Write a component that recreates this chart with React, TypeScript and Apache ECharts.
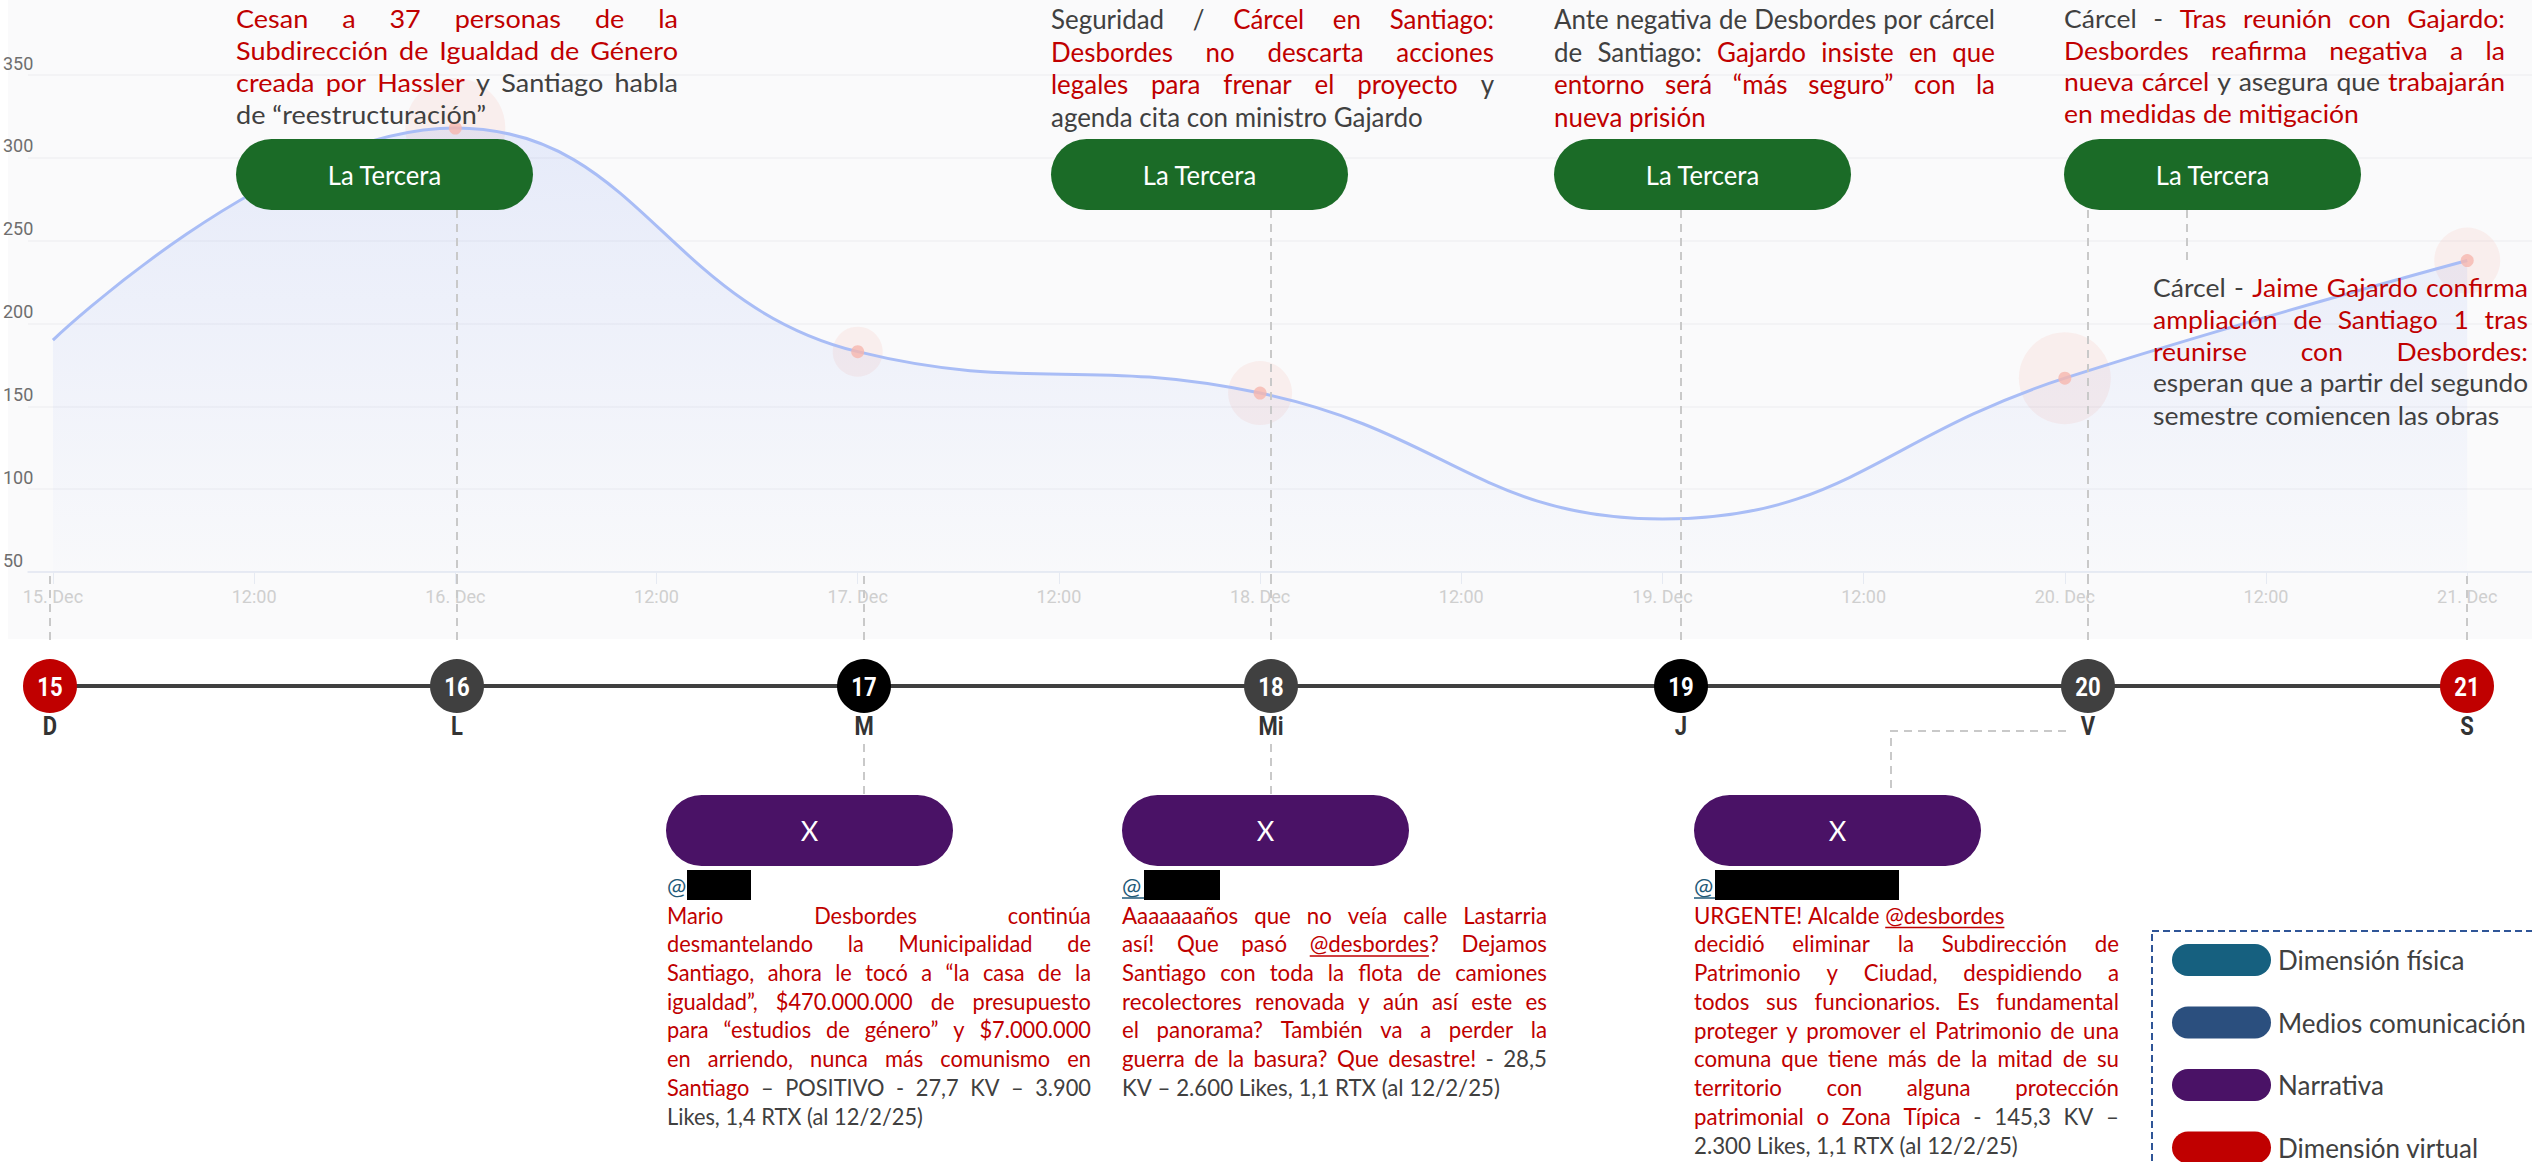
import React, { useEffect, useRef } from "react";
import * as echarts from "echarts";

// ---------- DATA ----------
const dayIndex = [0, 1, 2, 3, 4, 5, 6];
const dayValues = [190, 318, 183, 158, 82, 167, 238];
const markedDays = [1, 2, 3, 5, 6];
const xTickLabels = [
  "15. Dec", "12:00", "16. Dec", "12:00", "17. Dec", "12:00", "18. Dec",
  "12:00", "19. Dec", "12:00", "20. Dec", "12:00", "21. Dec",
];
const timelineDays = ["15", "16", "17", "18", "19", "20", "21"];
const weekdayLetters = ["D", "L", "M", "Mi", "J", "V", "S"];
const dayKinds = ["weekend", "odd", "even", "odd", "even", "odd", "weekend"];
const legendLabels = ["Dimensión física", "Medios comunicación", "Narrativa", "Dimensión virtual"];

// ---------- STYLE / LAYOUT ----------
const RED = "#c00000";
const GRAY = "#404040";
const AT = "#1f5a78";
const haloSizes = [100, 50, 64, 92, 66];
const timelineX = [50, 457, 864, 1271, 1681, 2088, 2467];
const dayColor: Record<string, string> = { weekend: "#c00000", odd: "#404040", even: "#000000" };
const legendColors = ["#16607f", "#2b4f7e", "#4a1266", "#c00000"];

type Seg = { t: string; c: string; u?: boolean };
const r = (t: string, u?: boolean): Seg => ({ t, c: RED, u });
const g = (t: string): Seg => ({ t, c: GRAY });

const block1: Seg[][] = [
  [r("Cesan a 37 personas de la")],
  [r("Subdirección de Igualdad de Género")],
  [r("creada por Hassler"), g(" y Santiago habla")],
  [g("de “reestructuración”")],
];
const block2: Seg[][] = [
  [g("Seguridad / "), r("Cárcel en Santiago:")],
  [r("Desbordes no descarta acciones")],
  [r("legales para frenar el proyecto"), g(" y")],
  [g("agenda cita con ministro Gajardo")],
];
const block3: Seg[][] = [
  [g("Ante negativa de Desbordes por cárcel")],
  [g("de Santiago: "), r("Gajardo insiste en que")],
  [r("entorno será “más seguro” con la")],
  [r("nueva prisión")],
];
const block4: Seg[][] = [
  [g("Cárcel - "), r("Tras reunión con Gajardo:")],
  [r("Desbordes reafirma negativa a la")],
  [r("nueva cárcel"), g(" y asegura que "), r("trabajarán")],
  [r("en medidas de mitigación")],
];
const block5: Seg[][] = [
  [g("Cárcel - "), r("Jaime Gajardo confirma")],
  [r("ampliación de Santiago 1 tras")],
  [r("reunirse con Desbordes:")],
  [g("esperan que a partir del segundo")],
  [g("semestre comiencen las obras")],
];
const tweetA: Seg[][] = [
  [r("Mario Desbordes continúa")],
  [r("desmantelando la Municipalidad de")],
  [r("Santiago, ahora le tocó a “la casa de la")],
  [r("igualdad”, $470.000.000 de presupuesto")],
  [r("para “estudios de género” y $7.000.000")],
  [r("en arriendo, nunca más comunismo en")],
  [r("Santiago"), g(" – POSITIVO - 27,7 KV – 3.900")],
  [g("Likes, 1,4 RTX (al 12/2/25)")],
];
const tweetB: Seg[][] = [
  [r("Aaaaaaaños que no veía calle Lastarria")],
  [r("así! Que pasó "), r("@desbordes", true), r("? Dejamos")],
  [r("Santiago con toda la flota de camiones")],
  [r("recolectores renovada y aún así este es")],
  [r("el panorama? También va a perder la")],
  [r("guerra de la basura? Que desastre!"), g(" - 28,5")],
  [g("KV – 2.600 Likes, 1,1 RTX (al 12/2/25)")],
];
const tweetC: Seg[][] = [
  [r("URGENTE! Alcalde "), r("@desbordes", true)],
  [r("decidió eliminar la Subdirección de")],
  [r("Patrimonio y Ciudad, despidiendo a")],
  [r("todos sus funcionarios. Es fundamental")],
  [r("proteger y promover el Patrimonio de una")],
  [r("comuna que tiene más de la mitad de su")],
  [r("territorio con alguna protección")],
  [r("patrimonial o Zona Típica"), g(" - 145,3 KV –")],
  [g("2.300 Likes, 1,1 RTX (al 12/2/25)")],
];

const FAMILY = "Lato";
let measureCtx: CanvasRenderingContext2D | null = null;
function measure(text: string, size: number, family: string) {
  if (!measureCtx) measureCtx = document.createElement("canvas").getContext("2d");
  measureCtx!.font = `${size}px ${family}`;
  return measureCtx!.measureText(text).width;
}

type BlockOpts = {
  x: number; y: number; w: number; lh: number; size: number; sx: number; family?: string;
  noJustify?: number[];
};
function layoutBlock(lines: Seg[][], o: BlockOpts): any[] {
  const fam = o.family || FAMILY;
  const out: any[] = [];
  lines.forEach((segs, li) => {
    const chars: { ch: string; c: string; u?: boolean }[] = [];
    segs.forEach((s) => {
      for (const ch of s.t) chars.push({ ch, c: s.c, u: s.u });
    });
    const words: { text: string; c: string; u?: boolean; w: number }[][] = [];
    let cur: any[] | null = null;
    chars.forEach((k) => {
      if (k.ch === " ") { cur = null; return; }
      if (!cur) { cur = []; words.push(cur); }
      const last = cur[cur.length - 1];
      if (last && last.c === k.c && last.u === k.u) last.text += k.ch;
      else cur.push({ text: k.ch, c: k.c, u: k.u, w: 0 });
    });
    let sx = o.sx;
    let total = 0;
    words.forEach((wd) => wd.forEach((run) => { run.w = measure(run.text, o.size, fam); total += run.w; }));
    const spaceW = measure(" ", o.size, fam);
    const gaps = words.length - 1;
    const natural = (total + gaps * spaceW) * sx;
    if (natural > o.w) sx = sx * (o.w / natural);
    const justify = li < lines.length - 1 && !(o.noJustify || []).includes(li);
    let gap = spaceW * sx;
    if (justify && gaps > 0) gap = (o.w - total * sx) / gaps;
    let cx = o.x;
    const y = o.y + li * o.lh;
    words.forEach((wd) => {
      wd.forEach((run) => {
        const w = run.w * sx;
        out.push({
          type: "text", x: cx, y, scaleX: sx, z: 50,
          style: {
            text: run.text, fill: run.c, fontSize: o.size, fontFamily: fam,
            textAlign: "left", textVerticalAlign: "middle", align: "left", verticalAlign: "middle",
          },
        });
        if (run.u) {
          out.push({
            type: "line", z: 50,
            shape: { x1: cx, y1: y + o.size * 0.55, x2: cx + w, y2: y + o.size * 0.55 },
            style: { stroke: run.c, lineWidth: 1.5 },
          });
        }
        cx += w;
      });
      cx += gap;
    });
  });
  return out;
}

function pill(x: number, y: number, w: number, h: number, fill: string, label: string, size: number, sx = 1) {
  const els: any[] = [
    { type: "rect", z: 40, shape: { x, y, width: w, height: h, r: h / 2 }, style: { fill } },
  ];
  if (label)
    els.push({
      type: "text", z: 41, x: x + w / 2, y: y + h / 2, scaleX: sx,
      style: {
        text: label, fill: "#ffffff", fontSize: size, fontFamily: FAMILY,
        textAlign: "center", textVerticalAlign: "middle", align: "center", verticalAlign: "middle",
      },
    });
  return els;
}

const DASH = { stroke: "#c9c9c9", lineWidth: 2, lineDash: [8, 6] };
function vdash(x: number, y1: number, y2: number) {
  return { type: "line", z: 5, shape: { x1: x, y1, x2: x, y2 }, style: DASH };
}

export default function App() {
  const ref = useRef<HTMLDivElement>(null);
  useEffect(() => {
    if (!ref.current) return;
    const chart = echarts.init(ref.current, undefined, { renderer: "svg" });

    const graphics: any[] = [];
    // chart background band
    graphics.push({ type: "rect", z: -10, shape: { x: 8, y: 0, width: 2524, height: 639 }, style: { fill: "#fafafb" } });

    // dashed connectors in chart band
    timelineX.forEach((x) => graphics.push(vdash(x, 576, 640)));
    [1, 3, 4, 5].forEach((i) => graphics.push(vdash(timelineX[i], 210, 576)));
    graphics.push(vdash(2187, 210, 262));
    // below timeline
    graphics.push(vdash(timelineX[2], 744, 794));
    graphics.push(vdash(timelineX[3], 744, 794));
    graphics.push({
      type: "polyline", z: 5,
      shape: { points: [[2066, 731], [1891, 731], [1891, 794]] },
      style: { ...DASH, fill: null },
    });

    // timeline
    graphics.push({
      type: "line", z: 20,
      shape: { x1: timelineX[0], y1: 686, x2: timelineX[6], y2: 686 },
      style: { stroke: "#3f3f3f", lineWidth: 4 },
    });
    timelineDays.forEach((d, i) => {
      graphics.push({ type: "circle", z: 21, shape: { cx: timelineX[i], cy: 686, r: 27 }, style: { fill: dayColor[dayKinds[i]] } });
      graphics.push({
        type: "text", z: 22, x: timelineX[i], y: 687, scaleX: 0.85,
        style: {
          text: d, fill: "#ffffff", fontSize: 26, fontWeight: "bold", fontFamily: "Roboto",
          textAlign: "center", textVerticalAlign: "middle", align: "center", verticalAlign: "middle",
        },
      });
      graphics.push({
        type: "text", z: 22, x: timelineX[i], y: 727, scaleX: 0.88,
        style: {
          text: weekdayLetters[i], fill: "#333333", fontSize: 25, fontWeight: "bold", fontFamily: "Roboto",
          textAlign: "center", textVerticalAlign: "middle", align: "center", verticalAlign: "middle",
        },
      });
    });

    // La Tercera boxes
    [236, 1051, 1554, 2064].forEach((x) => graphics.push(...pill(x, 139, 297, 71, "#1b6b27", "La Tercera", 27, 0.95)));
    // X boxes
    [666, 1122, 1694].forEach((x) => graphics.push(...pill(x, 795, 287, 71, "#4a1266", "X", 27)));

    // top text blocks
    graphics.push(...layoutBlock(block1, { x: 236, y: 18, w: 442, lh: 32, size: 25.5, sx: 1.06 }));
    graphics.push(...layoutBlock(block2, { x: 1051, y: 19, w: 443, lh: 32.5, size: 27, sx: 0.96 }));
    graphics.push(...layoutBlock(block3, { x: 1554, y: 19, w: 441, lh: 32.5, size: 27, sx: 0.96 }));
    graphics.push(...layoutBlock(block4, { x: 2064, y: 18, w: 441, lh: 31.8, size: 25.5, sx: 1.04 }));
    graphics.push(...layoutBlock(block5, { x: 2153, y: 287, w: 375, lh: 32, size: 25.5, sx: 1.04 }));

    // tweets
    const handles = [
      { x: 667, rx: 687, rw: 64, u: false },
      { x: 1122, rx: 1144, rw: 76, u: true },
      { x: 1694, rx: 1715, rw: 184, u: true },
    ];
    handles.forEach((h) => {
      graphics.push({
        type: "text", z: 50, x: h.x, y: 886,
        style: {
          text: "@", fill: AT, fontSize: 23, fontFamily: FAMILY,
          textAlign: "left", textVerticalAlign: "middle", align: "left", verticalAlign: "middle",
        },
      });
      if (h.u)
        graphics.push({ type: "line", z: 50, shape: { x1: h.x, y1: 898, x2: h.rx, y2: 898 }, style: { stroke: AT, lineWidth: 1.5 } });
      graphics.push({ type: "rect", z: 51, shape: { x: h.rx, y: 870, width: h.rw, height: 30 }, style: { fill: "#000000" } });
    });
    graphics.push(...layoutBlock(tweetA, { x: 667, y: 915, w: 424, lh: 28.7, size: 22.5, sx: 0.97 }));
    graphics.push(...layoutBlock(tweetB, { x: 1122, y: 915, w: 425, lh: 28.7, size: 22.5, sx: 0.99 }));
    graphics.push(...layoutBlock(tweetC, { x: 1694, y: 915, w: 425, lh: 28.75, size: 22.5, sx: 0.99, noJustify: [0] }));

    // legend
    graphics.push({
      type: "rect", z: 30, shape: { x: 2152, y: 931, width: 420, height: 300 },
      style: { fill: "#ffffff", stroke: "#2f5597", lineWidth: 2, lineDash: [7, 4] },
    });
    legendLabels.forEach((lab, i) => {
      const cy = 960 + i * 62.5;
      graphics.push(...pill(2172, cy - 16, 99, 32, legendColors[i], "", 0));
      graphics.push({
        type: "text", z: 42, x: 2278, y: cy,
        style: {
          text: lab, fill: GRAY, fontSize: 26, fontFamily: FAMILY,
          textAlign: "left", textVerticalAlign: "middle", align: "left", verticalAlign: "middle",
        },
      });
    });

    const tickVals = xTickLabels.map((_, i) => i * 0.5);

    chart.setOption({
      animation: false,
      grid: { left: 25, right: 0, top: 75, bottom: 1162 - 572, containLabel: false },
      xAxis: {
        type: "value",
        min: -0.062,
        max: 6.161,
        axisLine: { show: true, lineStyle: { color: "#e3e8f2", width: 1.5 } },
        axisTick: { show: true, customValues: tickVals, length: 12, lineStyle: { color: "#e6eaf2" } },
        axisLabel: {
          customValues: tickVals,
          formatter: (v: number) => xTickLabels[Math.round(v * 2)] ?? "",
          color: "#cfcfcf", fontSize: 18, fontFamily: "Roboto", margin: 15,
        },
        splitLine: { show: false },
      },
      yAxis: {
        type: "value",
        min: 50,
        max: 350,
        interval: 50,
        axisLine: { show: false },
        axisTick: { show: false },
        splitLine: { lineStyle: { color: "#f0f1f3", width: 1.5 } },
        axisLabel: {
          color: "#6e6e6e", fontSize: 18, fontFamily: "Roboto",
          align: "left", margin: 25, verticalAlign: "bottom", padding: [0, 0, 3, 0],
        },
      },
      series: [
        {
          type: "line",
          smooth: 0.45,
          symbol: "none",
          data: dayIndex.map((d, i) => [d, dayValues[i]]),
          lineStyle: { color: "#a9bdf6", width: 3 },
          areaStyle: {
            color: new echarts.graphic.LinearGradient(0, 0, 0, 1, [
              { offset: 0, color: "rgba(120,150,240,0.22)" },
              { offset: 1, color: "rgba(120,150,240,0.02)" },
            ]),
          },
          z: 3,
        },
        {
          type: "scatter",
          data: markedDays.map((d) => [d, dayValues[d]]),
          symbolSize: (_v: any, p: any) => haloSizes[p.dataIndex],
          itemStyle: { color: "rgba(242,140,120,0.13)" },
          z: 2,
          silent: true,
        },
        {
          type: "scatter",
          data: markedDays.map((d) => [d, dayValues[d]]),
          symbolSize: 13,
          itemStyle: { color: "#f6b7ae" },
          z: 4,
          silent: true,
        },
      ],
      graphic: { elements: graphics },
    });

    return () => chart.dispose();
  }, []);

  return (
    <div
      ref={ref}
      style={{ position: "fixed", left: 0, top: 0, width: 2532, height: 1162, background: "#ffffff" }}
    />
  );
}
